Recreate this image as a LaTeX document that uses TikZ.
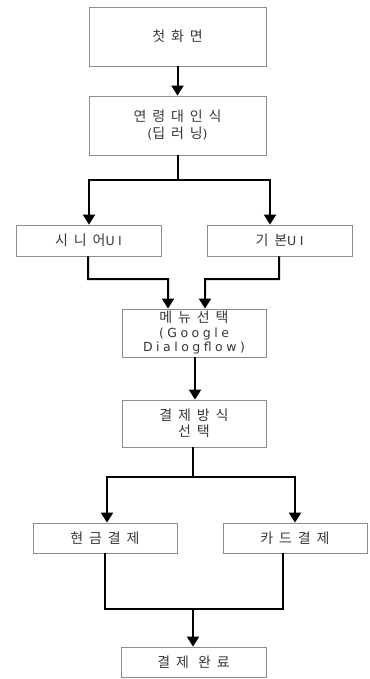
\documentclass[tikz,border=0pt]{standalone}
\usepackage{fontspec}
\setmainfont[LetterSpace=42]{Noto Sans CJK KR}
\newfontfamily\latf[LetterSpace=28]{DejaVu Sans}
\newcommand{\lat}[1]{{\latf\fontsize{12.5bp}{14.5bp}\selectfont #1}}
\usetikzlibrary{arrows.meta,calc}
\begin{document}
\begin{tikzpicture}[x=1bp,y=-1bp,
  box/.style={draw=black!45,line width=0.8bp,fill=white,text=black!78,align=center,
    font=\fontsize{14bp}{14.5bp}\selectfont,inner sep=0pt},
  conn/.style={line width=2bp,black},
  arr/.style={conn,-{Triangle[width=12bp,length=10bp]}}]
\useasboundingbox (0,0) rectangle (369,679);
\fill[white] (0,0) rectangle (369,679);
\node[box,minimum width=177bp,minimum height=59bp] (first) at (177.5,36.5) {첫화면};
\node[box,minimum width=177bp,minimum height=59bp,font=\fontsize{14bp}{17bp}\selectfont] (age) at (177.5,125.5) {연령대인식\\\lat{(}딥러닝\lat{)}};
\node[box,minimum width=145bp,minimum height=31bp] (senior) at (88.5,240.5) {시니어\lat{UI}};
\node[box,minimum width=145bp,minimum height=31bp] (basic) at (279.5,240.5) {기본\lat{UI}};
\node[box,minimum width=144bp,minimum height=48bp] (menu) at (194,333) {메뉴선택\\\lat{(Google}\\\lat{Dialogflow)}};
\node[box,minimum width=144bp,minimum height=47bp,font=\fontsize{14bp}{15.5bp}\selectfont] (pay) at (194,423.5) {결제방식\\선택};
\node[box,minimum width=144bp,minimum height=30bp] (cash) at (105,538) {현금결제};
\node[box,minimum width=144bp,minimum height=30bp] (card) at (295,538) {카드결제};
\node[box,minimum width=145bp,minimum height=30bp] (done) at (193.5,662) {결제 완료};
\coordinate (j1) at (177.5,180);
\coordinate (j2) at (193,477);
\coordinate (j3) at (193,609);
\draw[arr] (first) -- (age);
\draw[conn] (age.south) -- (j1);
\draw[arr] (j1) -| ([xshift=0.5bp]senior.north);
\draw[arr] (j1) -| ([xshift=-9.5bp]basic.north);
\draw[arr] ([xshift=-0.5bp]senior.south) |- (168,279) -- ([xshift=-26bp]menu.north);
\draw[arr] ([xshift=-0.5bp]basic.south) |- (205,279) -- ([xshift=11bp]menu.north);
\draw[arr] ([xshift=1bp]menu.south) -- ([xshift=1bp]pay.north);
\draw[conn] ([xshift=-1bp]pay.south) -- (j2);
\draw[arr] (j2) -| ([xshift=2bp]cash.north);
\draw[arr] (j2) -| (card.north);
\draw[conn] (cash.south) |- (j3);
\draw[conn] ([xshift=-12bp]card.south) |- (j3);
\draw[arr] (j3) -- ([xshift=-0.5bp]done.north);
\end{tikzpicture}
\end{document}
